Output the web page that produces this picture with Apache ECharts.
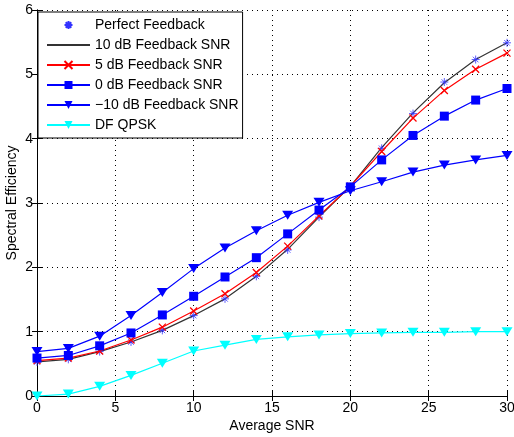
<!DOCTYPE html>
<html>
<head>
<meta charset="utf-8">
<script src="https://cdn.jsdelivr.net/npm/echarts@6/dist/echarts.min.js"></script>
<style>
  html, body { margin: 0; padding: 0; background: #fff; }
  #chart { width: 514px; height: 437px; }
</style>
</head>
<body>
<div id="chart"></div>
<script>
// average SNR values (x)
var snr = [0, 2, 4, 6, 8, 10, 12, 14, 16, 18, 20, 22, 24, 26, 28, 30];

var perfect = [0.53, 0.57, 0.69, 0.84, 1.02, 1.25, 1.51, 1.86, 2.27, 2.78, 3.25, 3.85, 4.39, 4.88, 5.23, 5.49];
var fb10 = [0.53, 0.57, 0.69, 0.84, 1.02, 1.25, 1.51, 1.86, 2.28, 2.78, 3.26, 3.86, 4.40, 4.87, 5.23, 5.49];
var fb5 = [0.55, 0.59, 0.70, 0.87, 1.07, 1.32, 1.59, 1.92, 2.33, 2.80, 3.26, 3.80, 4.32, 4.75, 5.08, 5.33];
var fb0 = [0.59, 0.63, 0.78, 0.98, 1.26, 1.55, 1.85, 2.15, 2.52, 2.89, 3.25, 3.67, 4.05, 4.35, 4.60, 4.78];
var fbm10 = [0.69, 0.74, 0.93, 1.25, 1.61, 1.98, 2.30, 2.57, 2.81, 3.01, 3.19, 3.33, 3.48, 3.59, 3.67, 3.74];
var dfqpsk = [0.00, 0.03, 0.15, 0.32, 0.51, 0.70, 0.79, 0.88, 0.92, 0.95, 0.97, 0.98, 0.99, 0.99, 1.00, 1.00];

var names = ["Perfect Feedback", "10 dB Feedback SNR", "5 dB Feedback SNR",
  "0 dB Feedback SNR", "\u221210 dB Feedback SNR", "DF QPSK"];

function pairs(ys) {
  return snr.map(function (x, i) { return [x, ys[i]]; });
}

var star = "path://M0,-1L0,1M-1,0L1,0M-0.7,-0.7L0.7,0.7M-0.7,0.7L0.7,-0.7";
var cross = "path://M-1,-1L1,1M-1,1L1,-1";

var font = "Liberation Sans, Arial, sans-serif";

var chart = echarts.init(document.getElementById("chart"), null, { renderer: "canvas" });

var axisCommon = {
  axisLine: { show: true, lineStyle: { color: "#000", width: 1 } },
  axisTick: { show: true, inside: true, length: 5, lineStyle: { color: "#000" } },
};

option = {
  animation: false,
  backgroundColor: "#fff",
  grid: { left: 37, right: 7, top: 10, bottom: 41, show: false, containLabel: false, outerBoundsMode: "none" },
  legend: {
    orient: "vertical",
    left: 38,
    top: 12,
    itemWidth: 43,
    itemHeight: 10,
    itemGap: 6,
    padding: [6, 4, 6, 8],
    borderColor: "#000",
    borderWidth: 1,
    backgroundColor: "#fff",
    textStyle: { fontFamily: font, fontSize: 14, color: "#000" },
    data: [
      names[0],
      { name: names[1], itemStyle: { opacity: 0 } },
      names[2], names[3], names[4], names[5],
    ],
  },
  xAxis: [
    Object.assign({
      type: "value", min: 0, max: 30, interval: 5,
      name: "Average SNR", nameLocation: "middle", nameGap: 23,
      nameMoveOverlap: false,
      nameTextStyle: { fontFamily: font, fontSize: 14, color: "#000" },
      axisLabel: { fontFamily: font, fontSize: 14, color: "#000", margin: 5 },
      splitLine: { show: true, lineStyle: { color: "#000", type: [1, 4], width: 1 } },
    }, axisCommon),
    Object.assign({
      type: "value", min: 0, max: 30, interval: 5, position: "top",
      axisLabel: { show: false }, splitLine: { show: false },
    }, axisCommon),
  ],
  yAxis: [
    Object.assign({
      type: "value", min: 0, max: 6, interval: 1,
      name: "Spectral Efficiency", nameLocation: "middle", nameGap: 18,
      nameMoveOverlap: false,
      nameTextStyle: { fontFamily: font, fontSize: 14, color: "#000" },
      axisLabel: { fontFamily: font, fontSize: 14, color: "#000", margin: 4 },
      splitLine: { show: true, lineStyle: { color: "#000", type: [1, 4], width: 1 } },
    }, axisCommon),
    Object.assign({
      type: "value", min: 0, max: 6, interval: 1, position: "right",
      axisLabel: { show: false }, splitLine: { show: false },
    }, axisCommon),
  ],
  series: [
    {
      name: names[1], type: "line", data: pairs(fb10),
      showSymbol: false, symbol: "none",
      lineStyle: { color: "#333", width: 1.2 }, itemStyle: { color: "#333" },
      z: 2,
    },
    {
      name: names[0], type: "line", data: pairs(perfect),
      symbol: star, symbolSize: 8,
      lineStyle: { width: 0, opacity: 0 },
      itemStyle: { color: "#3333ff", borderColor: "#3333ff", borderWidth: 0.8 },
      z: 3,
    },
    {
      name: names[2], type: "line", data: pairs(fb5),
      symbol: cross, symbolSize: 7,
      lineStyle: { color: "#ff0000", width: 1.2 },
      itemStyle: { color: "#ff0000", borderColor: "#ff0000", borderWidth: 1.3 },
      z: 4,
    },
    {
      name: names[3], type: "line", data: pairs(fb0),
      symbol: "rect", symbolSize: 9,
      lineStyle: { color: "#0000ff", width: 1.2 },
      itemStyle: { color: "#0000ff" },
      z: 5,
    },
    {
      name: names[4], type: "line", data: pairs(fbm10),
      symbol: "triangle", symbolRotate: 180, symbolSize: [11, 9],
      lineStyle: { color: "#0000ff", width: 1.2 },
      itemStyle: { color: "#0000ff" },
      z: 6,
    },
    {
      name: names[5], type: "line", data: pairs(dfqpsk),
      symbol: "triangle", symbolRotate: 180, symbolSize: [11, 9],
      lineStyle: { color: "#00ffff", width: 1.2 },
      itemStyle: { color: "#00ffff" },
      z: 6,
    },
  ],
};

chart.setOption(option);
</script>
</body>
</html>
